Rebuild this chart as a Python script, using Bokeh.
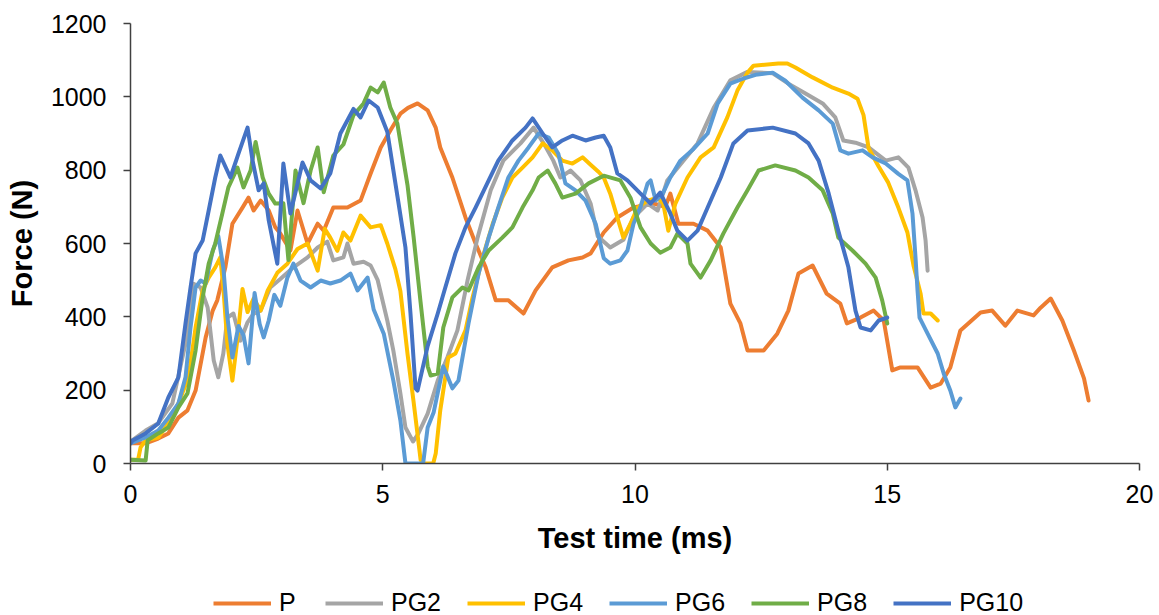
from bokeh.plotting import figure
from bokeh.models import Range1d, Legend, LegendItem, FixedTicker
from bokeh.layouts import column
from bokeh.embed import file_html
from bokeh.resources import INLINE

series_names = ["P", "PG2", "PG4", "PG6", "PG8", "PG10"]
series_colors = ["#ED7D31", "#A5A5A5", "#FFC000", "#5B9BD5", "#70AD47", "#4472C4"]

x_ticks = [0, 5, 10, 15, 20]
y_ticks = [0, 200, 400, 600, 800, 1000, 1200]

t_P = [0.0, 0.3, 0.55, 0.75, 0.95, 1.13, 1.29, 1.49, 1.63, 1.72, 1.88, 2.02, 2.22, 2.34, 2.44, 2.58, 2.74, 2.87, 2.97, 3.17, 3.31, 3.51, 3.71, 3.83, 4.02, 4.3, 4.56, 4.76, 4.96, 5.15, 5.35, 5.5, 5.69, 5.89, 6.05, 6.14, 6.38, 6.64, 6.84, 7.04, 7.24, 7.49, 7.79, 8.03, 8.36, 8.68, 8.96, 9.12, 9.38, 9.65, 9.97, 10.37, 10.6, 10.7, 10.86, 11.16, 11.44, 11.7, 11.89, 12.09, 12.23, 12.55, 12.82, 13.04, 13.24, 13.52, 13.8, 14.07, 14.2, 14.47, 14.73, 14.93, 15.1, 15.26, 15.46, 15.6, 15.86, 16.06, 16.25, 16.45, 16.85, 17.08, 17.34, 17.58, 17.9, 18.04, 18.24, 18.47, 18.7, 18.9, 18.99]
f_P = [55, 55, 68, 82, 125, 145, 199, 344, 417, 445, 535, 654, 698, 725, 690, 717, 690, 644, 627, 581, 690, 600, 654, 635, 698, 698, 717, 791, 862, 908, 954, 970, 982, 963, 916, 862, 780, 671, 600, 535, 445, 445, 409, 472, 535, 554, 562, 573, 630, 671, 698, 709, 700, 736, 654, 654, 635, 589, 436, 382, 308, 308, 354, 417, 518, 540, 463, 436, 382, 398, 417, 390, 254, 262, 262, 262, 207, 218, 262, 363, 412, 417, 376, 417, 404, 425, 450, 390, 308, 232, 172]

t_PG2 = [0.0, 0.3, 0.55, 0.83, 1.09, 1.25, 1.39, 1.53, 1.65, 1.74, 1.84, 1.92, 2.04, 2.18, 2.32, 2.44, 2.58, 2.77, 2.97, 3.23, 3.51, 3.71, 3.9, 4.02, 4.22, 4.3, 4.42, 4.62, 4.76, 4.9, 5.09, 5.21, 5.35, 5.45, 5.6, 5.7, 5.89, 6.09, 6.28, 6.48, 6.68, 6.88, 7.14, 7.39, 7.73, 7.99, 8.19, 8.38, 8.52, 8.72, 8.92, 9.12, 9.26, 9.51, 9.77, 9.97, 10.25, 10.45, 10.64, 10.96, 11.24, 11.56, 11.89, 12.23, 12.73, 13.04, 13.38, 13.72, 13.97, 14.13, 14.37, 14.63, 14.97, 15.22, 15.42, 15.56, 15.7, 15.76, 15.8]
f_PG2 = [60, 90, 110, 164, 327, 490, 480, 425, 281, 235, 300, 398, 409, 335, 385, 409, 417, 480, 503, 535, 562, 589, 605, 554, 562, 600, 545, 550, 540, 500, 390, 308, 191, 98, 60, 80, 136, 226, 289, 363, 499, 616, 745, 826, 873, 916, 873, 826, 780, 799, 772, 709, 620, 589, 610, 671, 709, 690, 772, 826, 873, 970, 1045, 1068, 1064, 1036, 1009, 982, 944, 881, 875, 862, 826, 835, 807, 745, 671, 608, 526]

t_PG4 = [0.0, 0.15, 0.2, 0.3, 0.55, 0.75, 0.95, 1.15, 1.29, 1.43, 1.55, 1.68, 1.78, 1.84, 1.92, 2.02, 2.12, 2.22, 2.32, 2.44, 2.58, 2.72, 2.91, 3.11, 3.31, 3.51, 3.71, 3.85, 3.96, 4.1, 4.22, 4.36, 4.56, 4.76, 4.96, 5.09, 5.25, 5.35, 5.49, 5.61, 5.75, 5.8, 6.0, 6.05, 6.14, 6.3, 6.44, 6.64, 6.78, 6.98, 7.18, 7.37, 7.57, 7.77, 7.97, 8.17, 8.36, 8.56, 8.76, 8.96, 9.12, 9.28, 9.38, 9.51, 9.65, 9.77, 9.91, 10.05, 10.25, 10.45, 10.56, 10.66, 10.8, 11.04, 11.3, 11.56, 11.83, 12.03, 12.23, 12.35, 12.84, 13.02, 13.18, 13.52, 13.92, 14.23, 14.41, 14.53, 14.63, 14.83, 15.02, 15.22, 15.4, 15.52, 15.66, 15.72, 15.86, 16.0]
f_PG4 = [10, 10, 44, 63, 71, 109, 164, 235, 371, 472, 507, 535, 562, 480, 327, 226, 340, 476, 413, 450, 417, 472, 520, 545, 585, 600, 526, 640, 616, 580, 630, 608, 676, 644, 650, 600, 530, 470, 300, 170, 10, 0, 0, 27, 145, 289, 300, 363, 453, 562, 654, 725, 780, 807, 835, 873, 854, 826, 818, 835, 815, 795, 780, 736, 671, 616, 654, 698, 717, 725, 709, 635, 709, 780, 835, 862, 944, 1017, 1066, 1085, 1091, 1091, 1080, 1053, 1025, 1009, 995, 950, 860, 810, 766, 698, 630, 540, 464, 409, 409, 390]

t_PG6 = [0.0, 0.3, 0.55, 0.75, 0.95, 1.09, 1.19, 1.29, 1.39, 1.49, 1.63, 1.74, 1.84, 1.92, 2.02, 2.14, 2.24, 2.34, 2.46, 2.56, 2.64, 2.74, 2.85, 2.97, 3.11, 3.23, 3.37, 3.57, 3.77, 3.96, 4.16, 4.36, 4.5, 4.7, 4.82, 5.02, 5.21, 5.35, 5.45, 5.8, 5.89, 6.01, 6.2, 6.38, 6.5, 6.7, 6.9, 7.1, 7.29, 7.49, 7.69, 7.89, 8.09, 8.29, 8.48, 8.62, 8.82, 9.02, 9.22, 9.38, 9.51, 9.71, 9.85, 9.97, 10.11, 10.25, 10.31, 10.41, 10.55, 10.7, 10.9, 11.16, 11.44, 11.64, 11.89, 12.15, 12.39, 12.73, 12.98, 13.32, 13.64, 13.92, 14.07, 14.23, 14.51, 14.71, 14.97, 15.22, 15.4, 15.5, 15.56, 15.6, 15.64, 15.8, 16.0, 16.12, 16.25, 16.35, 16.45]
f_PG6 = [55, 71, 90, 125, 164, 235, 371, 480, 499, 491, 581, 620, 535, 400, 289, 375, 350, 273, 465, 380, 344, 390, 460, 430, 507, 545, 499, 480, 499, 491, 499, 518, 472, 507, 420, 354, 226, 117, 0, 0, 98, 140, 265, 205, 226, 382, 518, 616, 698, 780, 826, 862, 900, 889, 845, 764, 745, 717, 654, 560, 545, 554, 581, 654, 700, 764, 772, 717, 736, 780, 826, 858, 900, 982, 1036, 1050, 1060, 1066, 1044, 998, 963, 927, 854, 845, 854, 835, 818, 790, 772, 682, 562, 472, 398, 354, 300, 245, 199, 153, 177]

t_PG8 = [0.0, 0.3, 0.34, 0.55, 0.75, 0.95, 1.13, 1.29, 1.43, 1.55, 1.68, 1.82, 1.94, 2.12, 2.24, 2.38, 2.48, 2.62, 2.74, 2.87, 3.03, 3.13, 3.27, 3.43, 3.57, 3.71, 3.83, 4.02, 4.22, 4.42, 4.62, 4.76, 4.9, 5.02, 5.15, 5.29, 5.49, 5.61, 5.75, 5.89, 5.95, 6.09, 6.2, 6.38, 6.58, 6.7, 6.9, 7.1, 7.37, 7.57, 7.77, 7.97, 8.09, 8.27, 8.42, 8.56, 8.82, 9.08, 9.38, 9.71, 9.91, 10.11, 10.31, 10.5, 10.7, 10.84, 11.04, 11.1, 11.3, 11.5, 11.75, 12.03, 12.23, 12.45, 12.78, 13.18, 13.44, 13.72, 13.92, 14.03, 14.31, 14.57, 14.77, 14.9, 15.0]
f_PG8 = [10, 8, 63, 82, 98, 153, 191, 308, 453, 545, 600, 682, 753, 807, 753, 799, 877, 780, 736, 709, 710, 555, 799, 710, 799, 862, 740, 840, 870, 950, 982, 1025, 1012, 1039, 971, 927, 760, 620, 440, 265, 240, 245, 371, 453, 480, 472, 535, 581, 616, 644, 698, 745, 780, 799, 764, 725, 736, 764, 785, 772, 725, 644, 600, 575, 589, 627, 600, 545, 507, 554, 627, 698, 745, 799, 813, 799, 780, 745, 682, 616, 581, 545, 507, 445, 382]

t_PG10 = [0.0, 0.04, 0.3, 0.55, 0.75, 0.95, 1.09, 1.19, 1.29, 1.43, 1.55, 1.68, 1.78, 1.98, 2.14, 2.32, 2.42, 2.54, 2.64, 2.74, 2.91, 3.03, 3.17, 3.41, 3.57, 3.77, 3.96, 4.16, 4.42, 4.56, 4.72, 4.9, 5.09, 5.29, 5.45, 5.55, 5.65, 5.69, 5.89, 6.09, 6.24, 6.44, 6.64, 6.84, 7.1, 7.29, 7.57, 7.83, 7.97, 8.17, 8.36, 8.56, 8.76, 9.02, 9.22, 9.38, 9.51, 9.65, 9.85, 10.11, 10.31, 10.5, 10.7, 10.84, 11.04, 11.24, 11.44, 11.7, 11.95, 12.23, 12.73, 13.18, 13.44, 13.64, 13.84, 14.03, 14.23, 14.37, 14.47, 14.67, 14.83, 15.0]
f_PG10 = [55, 63, 82, 109, 180, 235, 382, 480, 573, 608, 690, 780, 840, 780, 845, 916, 826, 745, 764, 663, 545, 818, 682, 821, 772, 750, 791, 900, 967, 944, 990, 971, 905, 730, 589, 409, 205, 199, 320, 409, 480, 573, 644, 698, 772, 826, 881, 916, 941, 900, 862, 881, 894, 881, 889, 894, 862, 791, 772, 736, 709, 739, 682, 635, 608, 635, 698, 780, 873, 908, 916, 900, 873, 826, 736, 635, 535, 417, 371, 363, 390, 398]

series_t = [t_P, t_PG2, t_PG4, t_PG6, t_PG8, t_PG10]
series_f = [f_P, f_PG2, f_PG4, f_PG6, f_PG8, f_PG10]

FONT = "Liberation Sans"
TXT = "#000000"
LW = 4

p = figure(width=1159, height=580, output_backend="svg", toolbar_location=None,
           x_range=Range1d(0, 20), y_range=Range1d(0, 1200),
           min_border_left=130, min_border_right=20, min_border_top=23, min_border_bottom=117)
p.xgrid.visible = False
p.ygrid.visible = False
p.outline_line_color = None

for t, f, c in zip(series_t, series_f, series_colors):
    p.line(t, f, line_color=c, line_width=LW, line_join="round", line_cap="round")

for ax in (p.xaxis[0], p.yaxis[0]):
    ax.axis_line_color = "#404040"
    ax.axis_line_width = 1.5
    ax.major_tick_line_color = "#404040"
    ax.major_tick_line_width = 1.5
    ax.major_tick_out = 7
    ax.major_tick_in = 0
    ax.minor_tick_line_color = None
    ax.major_label_text_font = FONT
    ax.major_label_text_font_size = "25px"
    ax.major_label_text_color = TXT
    ax.axis_label_text_font = FONT
    ax.axis_label_text_font_size = "29px"
    ax.axis_label_text_font_style = "bold"
    ax.axis_label_text_color = TXT

p.xaxis.ticker = FixedTicker(ticks=x_ticks)
p.yaxis.ticker = FixedTicker(ticks=y_ticks)
p.xaxis.axis_label = "Test time (ms)"
p.yaxis.axis_label = "Force (N)"
p.xaxis.major_label_standoff = 14
p.yaxis.major_label_standoff = 17
p.xaxis.axis_label_standoff = 16
p.yaxis.axis_label_standoff = 10

# legend strip below the chart (same side borders as the chart)
lg = figure(width=1159, height=35, output_backend="svg", toolbar_location=None,
            x_range=Range1d(0, 1), y_range=Range1d(0, 1),
            min_border_left=130, min_border_right=20, min_border_top=0, min_border_bottom=0)
lg.axis.visible = False
lg.xgrid.visible = False
lg.ygrid.visible = False
lg.outline_line_color = None
lg_renderers = [lg.line([2, 3], [2, 3], line_color=c, line_width=LW) for c in series_colors]
items = [LegendItem(label=n, renderers=[r]) for n, r in zip(series_names, lg_renderers)]
legend = Legend(items=items, orientation="horizontal", location=(83, -2),
                glyph_width=58, glyph_height=20, label_standoff=8, spacing=26,
                padding=0, margin=0, border_line_color=None, background_fill_alpha=0,
                label_text_font=FONT, label_text_font_size="25px", label_text_color=TXT,
                label_height=20)
lg.add_layout(legend)

layout = column(p, lg, spacing=0)
open("out.html", "w").write(file_html(layout, INLINE))
